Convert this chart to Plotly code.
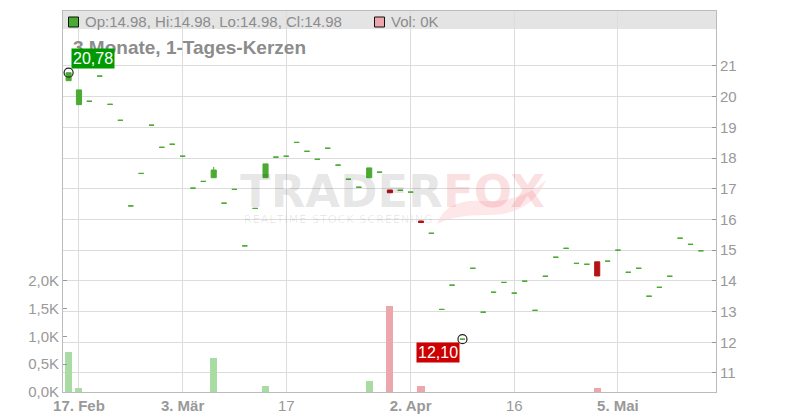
import plotly.graph_objects as go
import pandas as pd

# ---------------- data ----------------
holidays = ["2025-04-18", "2025-04-21", "2025-05-01"]
dates = [d.strftime("%Y-%m-%d") for d in pd.bdate_range("2025-02-14", "2025-05-15")
         if d.strftime("%Y-%m-%d") not in holidays]

opens = [20.52, 19.74, 19.85, 20.67, 19.75, 19.23, 16.44, 17.50, 19.07, 18.35,
         18.45, 18.06, 17.02, 17.24, 17.36, 16.53, 16.98, 15.14, 16.36, 17.36,
         18.03, 18.06, 18.51, 18.22, 17.96, 18.32, 17.77, 17.31, 17.05, 17.36,
         17.54, 16.96, 16.95, 16.89, 15.95, 15.55, 13.07, 13.86, 12.10, 14.41,
         12.98, 13.63, 13.95, 13.60, 13.99, 13.04, 14.15, 14.77, 15.06, 14.57,
         14.54, 14.62, 14.64, 15.00, 14.28, 14.41, 13.50, 13.79, 14.15, 15.39,
         15.19, 14.98]
highs = [20.78, 20.22, 19.85, 20.67, 19.75, 19.23, 16.44, 17.50, 19.07, 18.35,
         18.45, 18.06, 17.02, 17.24, 17.71, 16.53, 16.98, 15.14, 16.36, 17.81,
         18.03, 18.06, 18.51, 18.22, 17.96, 18.32, 17.77, 17.31, 17.05, 17.68,
         17.54, 16.96, 16.95, 16.89, 15.95, 15.55, 13.07, 13.86, 12.10, 14.41,
         12.98, 13.63, 13.95, 13.60, 13.99, 13.04, 14.15, 14.77, 15.06, 14.57,
         14.54, 14.62, 14.64, 15.00, 14.28, 14.41, 13.50, 13.79, 14.15, 15.39,
         15.19, 14.98]
lows = [20.52, 19.74, 19.85, 20.67, 19.75, 19.23, 16.44, 17.50, 19.07, 18.35,
        18.45, 18.06, 17.02, 17.24, 17.36, 16.53, 16.98, 15.14, 16.36, 17.36,
        18.03, 18.06, 18.51, 18.22, 17.96, 18.32, 17.77, 17.31, 17.05, 17.36,
        17.54, 16.87, 16.95, 16.89, 15.90, 15.55, 13.07, 13.86, 12.10, 14.41,
        12.98, 13.63, 13.95, 13.60, 13.99, 13.04, 14.15, 14.77, 15.06, 14.57,
        14.54, 14.16, 14.64, 15.00, 14.28, 14.41, 13.50, 13.79, 14.15, 15.39,
        15.19, 14.98]
closes = [20.78, 20.22, 19.85, 20.67, 19.75, 19.23, 16.44, 17.50, 19.07, 18.35,
          18.45, 18.06, 17.02, 17.24, 17.61, 16.53, 16.98, 15.14, 16.36, 17.81,
          18.03, 18.06, 18.51, 18.22, 17.96, 18.32, 17.77, 17.31, 17.05, 17.68,
          17.54, 16.87, 16.95, 16.89, 15.90, 15.55, 13.07, 13.86, 12.10, 14.41,
          12.98, 13.63, 13.95, 13.60, 13.99, 13.04, 14.15, 14.77, 15.06, 14.57,
          14.54, 14.16, 14.64, 15.00, 14.28, 14.41, 13.50, 13.79, 14.15, 15.39,
          15.19, 14.98]
volumes = [727, 63, 0, 0, 0, 0, 0, 0, 0, 0,
           0, 0, 0, 0, 618, 0, 0, 0, 0, 116,
           0, 0, 0, 0, 0, 0, 0, 0, 0, 206,
           0, 1550, 0, 0, 116, 0, 0, 0, 0, 0,
           0, 0, 0, 0, 0, 0, 0, 0, 0, 0,
           0, 63, 0, 0, 0, 0, 0, 0, 0, 0,
           0, 0]

tick_dates = ["2025-02-17", "2025-03-03", "2025-03-17", "2025-04-02", "2025-04-16", "2025-05-05"]
tick_labels = ["<b>17. Feb</b>", "<b>3. Mär</b>", "17", "<b>2. Apr</b>", "16", "<b>5. Mai</b>"]
price_ticks = [11, 12, 13, 14, 15, 16, 17, 18, 19, 20, 21]
vol_ticks = [0, 500, 1000, 1500, 2000]
vol_tick_labels = ["0,0K", "0,5K", "1,0K", "1,5K", "2,0K"]

# ---------------- styles ----------------
GREEN = "#4aab32"
RED = "#b41414"
LGREEN = "#a8dca2"
PINK = "#eea6ad"
GRID = "#dcdcdc"
AXIS = "#bbbbbb"
TXT = "#999999"

L_, R_, T_, B_ = 63, 716, 11, 392


def px(x):
    return (x - L_) / (R_ - L_)


def py(y):
    return (B_ - y) / (B_ - T_)


idx = list(range(len(dates)))
is_red = [c < o for o, c in zip(opens, closes)]
g_idx = [i for i in idx if not is_red[i]]
r_idx = [i for i in idx if is_red[i]]

fig = go.Figure()

fig.add_trace(go.Bar(
    x=idx, y=volumes, yaxis="y", width=0.68,
    marker=dict(color=[PINK if is_red[i] else LGREEN for i in idx], line_width=0),
    hoverinfo="skip", showlegend=False))


def candle(sel, color):
    return go.Candlestick(
        x=sel,
        open=[opens[i] for i in sel], high=[highs[i] for i in sel],
        low=[lows[i] for i in sel], close=[closes[i] for i in sel],
        yaxis="y2", whiskerwidth=0,
        increasing=dict(line=dict(color=color, width=1), fillcolor=color),
        decreasing=dict(line=dict(color=color, width=1), fillcolor=color),
        showlegend=False, hoverinfo="skip")


fig.add_trace(candle(g_idx, GREEN))
fig.add_trace(candle(r_idx, RED))

imax = max(idx, key=lambda i: highs[i])
imin = min(idx, key=lambda i: lows[i])
fig.add_trace(go.Scatter(
    x=[imax, imin], y=[highs[imax], lows[imin]], yaxis="y2", mode="markers",
    marker=dict(symbol="circle-open", size=9, color="#222222", line=dict(width=1.2)),
    showlegend=False, hoverinfo="skip"))


def de(v):
    return f"{v:.2f}".replace(".", ",")


last = len(dates) - 1
header = (f"Op:{opens[last]:.2f}, Hi:{highs[last]:.2f}, "
          f"Lo:{lows[last]:.2f}, Cl:{closes[last]:.2f}")

sub = "\u200a".join("REALTIME STOCK SCREENING")

annotations = [
    dict(text="<b><span style='color:rgba(0,0,0,0.10)'>TRADER</span>"
              "<span style='color:rgba(235,60,75,0.17)'>FOX</span></b>",
         xref="paper", yref="paper", x=px(392), y=py(191), xanchor="center", yanchor="middle",
         showarrow=False, font=dict(family="DejaVu Sans", size=45)),
    dict(text=sub, xref="paper", yref="paper",
         x=px(338), y=py(219), xanchor="center", yanchor="middle", showarrow=False,
         font=dict(family="DejaVu Sans", size=11, color="rgba(0,0,0,0.09)")),
    dict(text=header, xref="paper", yref="paper", x=px(83), y=py(21.5),
         xanchor="left", yanchor="middle", showarrow=False,
         font=dict(size=15, color="#8c8c8c")),
    dict(text=f"Vol: {volumes[last] / 1000:.0f}K", xref="paper", yref="paper", x=px(389), y=py(21.5),
         xanchor="left", yanchor="middle", showarrow=False,
         font=dict(size=15, color="#8c8c8c")),
    dict(text="<b>3 Monate, 1-Tages-Kerzen</b>", xref="paper", yref="paper",
         x=px(71), y=py(47), xanchor="left", yanchor="middle", showarrow=False,
         font=dict(size=19, color="#8c8c8c")),
    dict(text=de(highs[imax]), x=imax, y=highs[imax], xref="x", yref="y2",
         xanchor="left", yanchor="bottom", xshift=2.5, yshift=4, showarrow=False,
         bgcolor="#009a00", borderpad=1, font=dict(size=16, color="white")),
    dict(text=de(lows[imin]), x=imin, y=lows[imin], xref="x", yref="y2",
         xanchor="right", yanchor="top", xshift=-2.5, yshift=-3, showarrow=False,
         bgcolor="#cc0000", borderpad=1, font=dict(size=16, color="white")),
]

tail = (f"M {px(437)} {py(224)} Q {px(446)} {py(199)} {px(482)} {py(201)} "
        f"Q {px(522)} {py(203)} {px(546)} {py(180)} "
        f"Q {px(532)} {py(213)} {px(492)} {py(215)} "
        f"Q {px(456)} {py(214)} {px(437)} {py(224)} Z")

shapes = [
    dict(type="rect", xref="paper", yref="paper", x0=0, x1=1, y0=py(29), y1=1,
         fillcolor="#e4e4e4", line_width=0, layer="below"),
    dict(type="path", xref="paper", yref="paper", path=tail,
         fillcolor="rgba(235,60,75,0.12)", line_width=0, layer="below"),
    dict(type="rect", xref="paper", yref="paper", x0=px(68.5), x1=px(78.5), y0=py(27), y1=py(17),
         fillcolor=GREEN, line=dict(color="#111111", width=1)),
    dict(type="rect", xref="paper", yref="paper", x0=px(374.5), x1=px(384.5), y0=py(27), y1=py(17),
         fillcolor=PINK, line=dict(color="#111111", width=1)),
]

fig.update_layout(
    width=800, height=420,
    margin=dict(l=L_, r=800 - R_, t=T_, b=420 - B_, autoexpand=False),
    paper_bgcolor="white", plot_bgcolor="white",
    font=dict(family="Liberation Sans, Arial, sans-serif", color=TXT, size=15),
    showlegend=False, bargap=0,
    xaxis=dict(
        range=[-0.54, 62.46], tickmode="array",
        tickvals=[dates.index(d) for d in tick_dates], ticktext=tick_labels,
        showgrid=True, gridcolor=GRID, gridwidth=1, zeroline=False,
        showline=True, mirror=True, linecolor=AXIS, linewidth=1,
        ticks="", tickfont=dict(size=15, color=TXT),
        rangeslider=dict(visible=False), fixedrange=True),
    yaxis=dict(
        side="left", range=[0, 6840], tickmode="array", tickvals=vol_ticks,
        ticktext=vol_tick_labels, showgrid=False, zeroline=False,
        showline=True, linecolor=AXIS, linewidth=1,
        ticks="inside", ticklen=4, tickcolor=TXT,
        tickfont=dict(size=15, color=TXT), fixedrange=True),
    yaxis2=dict(
        overlaying="y", side="right", range=[10.38, 22.79], tickmode="array",
        tickvals=price_ticks, showgrid=True, gridcolor=GRID, gridwidth=1, zeroline=False,
        showline=True, linecolor=AXIS, linewidth=1,
        ticks="inside", ticklen=4, tickcolor=TXT,
        tickfont=dict(size=15, color=TXT), fixedrange=True),
    annotations=annotations,
    shapes=shapes,
)

fig.write_html("out.html", config={"displayModeBar": False},
               post_script="document.body.style.margin='0';")
